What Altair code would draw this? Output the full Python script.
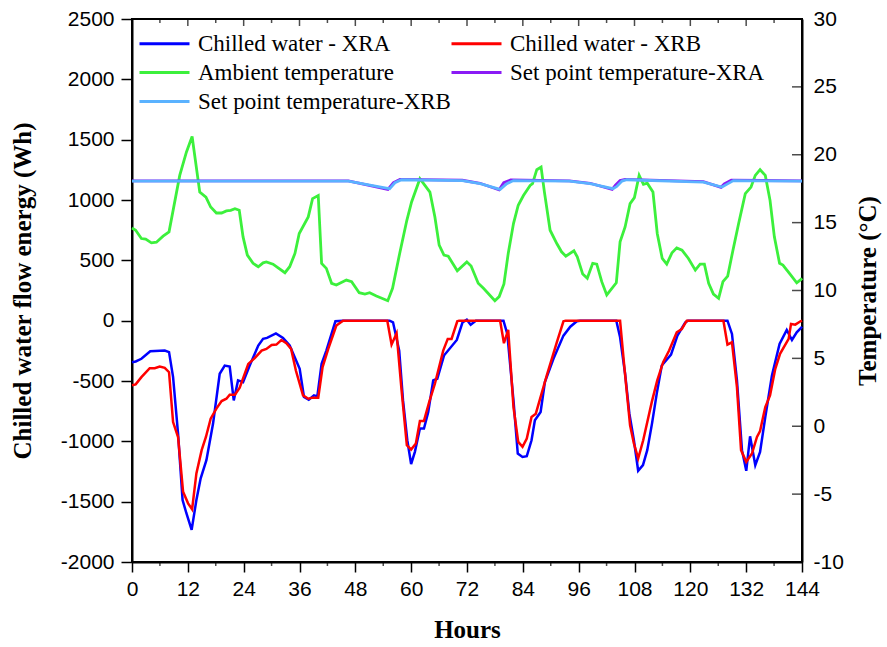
import altair as alt
import pandas as pd

# ---------------- data ----------------
names = ["Chilled water - XRA", "Chilled water - XRB", "Ambient temperature",
         "Set point temperature-XRA", "Set point temperature-XRB"]
colors = ["#0000FF", "#FF0000", "#3CF03C", "#8A1BF5", "#5AB2FF"]

x_ticks = [0, 12, 24, 36, 48, 60, 72, 84, 96, 108, 120, 132, 144]
x_minor = [6, 18, 30, 42, 54, 66, 78, 90, 102, 114, 126, 138]
e_ticks = [-2000, -1500, -1000, -500, 0, 500, 1000, 1500, 2000, 2500]
t_ticks = [-10, -5, 0, 5, 10, 15, 20, 25, 30]

hours_xra = [0, 0.79, 2.02, 3.92, 7.04, 7.96, 8.83, 9.90, 10.87, 11.69, 12.82, 13.84, 14.76,
             15.99, 17.42, 18.85, 19.93, 21.00, 21.87, 22.79, 23.87, 25.30, 27.14, 28.17, 29.03,
             30.93, 32.46, 33.89, 36.04, 36.96, 37.99, 39.11, 39.83, 40.75, 41.77, 43.72, 45.35,
             55.38, 56.10, 57.43, 58.25, 59.17, 59.99, 60.80, 61.88, 62.75, 63.67, 64.74, 65.61,
             67.05, 69.81, 71.04, 71.96, 72.78, 73.90,
             79.84, 80.66, 81.99, 82.91, 83.93, 84.85, 85.87, 86.59, 87.82, 88.74, 90.58, 92.73,
             94.2, 95.6, 96.3,
             104.09, 104.90, 105.98, 106.90, 107.87, 108.79, 109.82, 110.74, 111.76, 112.78,
             113.86, 115.85, 117.23, 118.92, 119.5,
             127.98, 128.95, 130.02, 131.10, 132.02, 132.84, 133.96, 134.99, 136.11, 137.54,
             139.18, 140.72, 141.84, 142.87, 143.79, 144]
energy_xra = [-345, -338, -316, -253, -248, -261, -468, -936, -1486, -1596, -1734, -1486, -1307,
              -1156, -853, -440, -372, -380, -661, -495, -509, -372, -206, -151, -143,
              -105, -143, -206, -399, -633, -655, -619, -628, -358, -248, -5, 0,
              0, -14, -248, -661, -991, -1189, -1087, -894, -894, -757, -495, -481,
              -289, -160, -14, 8, -33, 0,
              0, -110, -661, -1101, -1129, -1123, -991, -826, -757, -509, -316, -124,
              -50, -5, 0,
              0, -138, -440, -771, -991, -1244, -1197, -1073, -853, -605,
              -372, -281, -124, -14, 0,
              0, -110, -495, -1073, -1244, -958, -1197, -1087, -798, -454,
              -193, -77, -160, -96, -60, -50]

hours_xrb = [0, 0.79, 2.02, 3.81, 4.89, 5.96, 7.04, 7.96, 8.83, 9.90, 10.98, 12.05, 12.92,
             13.84, 14.97, 15.89, 16.91, 18.14, 19.26, 20.29, 21.00, 22.13, 23.15, 24.99, 26.43,
             27.86, 28.88, 30.01, 31.03, 32.10, 33.18, 34.20, 35.22, 36.76, 37.88, 38.81, 40.03,
             40.96, 42.18, 43.92, 45.35,
             54.87, 55.79, 56.87, 57.94, 59.07, 59.99, 61.01, 61.88, 62.75, 63.87, 65.10, 66.89,
             67.86, 68.68, 69.91, 70.3,
             79.12, 79.94, 80.86, 81.99, 83.01, 83.93, 84.85, 85.87, 86.79, 89.15, 91.30, 92.73,
             93.2,
             104.90, 105.82, 107.05, 107.87, 108.79, 109.87, 111.71, 112.89, 114.16, 115.44,
             117.08, 118.16, 119.23,
             127.11, 127.98, 128.95, 130.02, 130.90, 132.02, 133.25, 134.32, 134.99, 136.11,
             137.13, 138.26, 139.28, 141.13, 141.64, 142.56, 143.68, 144]
energy_xrb = [-535, -528, -468, -394, -394, -380, -391, -427, -840, -964, -1418, -1514, -1563,
              -1266, -1073, -964, -812, -729, -666, -647, -614, -614, -556, -358, -308,
              -248, -234, -201, -198, -160, -187, -234, -413, -619, -647, -638, -638,
              -385, -234, -41, 0,
              0, -198, -105, -578, -1032, -1068, -1018, -831, -831, -675, -523, -248,
              -151, -151, -5, 0,
              0, -187, -77, -716, -1005, -1046, -977, -798, -771, -454, -179, -5,
              0,
              0, -385, -867, -1018, -1142, -991, -675, -495, -344, -248,
              -96, -69, 0,
              0, -198, -179, -551, -1073, -1170, -1101, -964, -914, -716,
              -619, -399, -275, -151, -27, -33, -5, 0]

hours_amb = [0, 0.79, 2.02, 2.94, 4.17, 5.25, 6.68, 7.96, 10.26, 11.69, 12.92, 14.56, 15.89,
             16.91, 18.14, 19.26, 20.29, 21.21, 22.13, 23.05, 23.87, 24.79, 26.02, 27.14, 28.17,
             28.88, 30.31, 32.87, 33.89, 35.02, 35.94, 37.88, 38.81, 40.03, 40.75, 41.77, 42.90,
             43.92, 46.07, 47.20, 48.83, 50.06, 51.08, 52.52, 54.97, 56.00, 57.53, 59.07, 60.09,
             61.88, 62.95, 64.03, 65.10, 66.02, 67.05, 67.97, 69.91, 71.96, 72.88, 74.41, 75.54,
             77.99, 78.92, 79.94, 80.86, 81.99, 83.01, 84.13, 85.57, 86.08, 87.00, 87.92, 88.64,
             89.86, 91.30, 92.32, 93.24, 94.98, 95.70, 96.87, 97.85, 99.02, 99.89, 100.96, 102.04,
             104.09, 104.90, 105.98, 107.05, 107.98, 109.00, 109.92, 110.74, 111.97, 112.89,
             113.96, 114.93, 116.06, 117.08, 118.21, 119.59, 121.07, 122.10, 123.02, 123.94,
             124.96, 126.08, 127.01, 128.03, 129.16, 130.38, 131.81, 133.04, 133.96, 134.99,
             136.11, 137.13, 138.06, 139.18, 139.90, 141.43, 142.87, 143.79, 144]
temp_amb = [14.6, 14.44, 13.83, 13.78, 13.51, 13.56, 14.0, 14.32, 18.48, 20.19, 21.34, 17.25, 16.88,
            16.15, 15.71, 15.71, 15.86, 15.91, 16.03, 15.91, 13.95, 12.61, 12.0, 11.75, 12.04,
            12.11, 11.94, 11.31, 11.75, 12.73, 14.2, 15.42, 16.77, 17.0, 12.0, 11.63, 10.53,
            10.4, 10.77, 10.65, 9.84, 9.74, 9.84, 9.6, 9.25, 10.16, 12.73, 15.17, 16.52,
            18.23, 17.74, 17.25, 15.42, 13.34, 12.61, 12.53, 11.45, 12.11, 11.8, 10.53, 10.16,
            9.25, 9.55, 10.48, 12.73, 14.93, 16.28, 17.0, 17.74, 17.87, 18.9, 19.09, 17.25,
            14.44, 13.46, 12.85, 12.53, 12.92, 12.48, 11.21, 10.9, 12.0, 11.94, 10.65, 9.67,
            10.57, 13.58, 14.68, 16.4, 16.84, 18.48, 17.82, 17.91, 17.25, 14.2,
            12.36, 11.94, 12.78, 13.14, 12.97, 12.36, 11.5, 11.94, 11.94, 10.53,
            9.74, 9.43, 10.65, 11.06, 12.97, 14.93, 17.13, 17.62, 18.48, 18.9,
            18.48, 16.64, 13.95, 12.0, 11.87, 11.21, 10.57, 10.82, 10.9]

hours_sp_xra = [0, 46.5, 55.0, 56.2, 57.6, 71, 74.8, 78.9, 79.9, 81.4, 94, 98.46, 103.2,
                103.9, 104.9, 106.0, 122.8, 126.6, 127.3, 128.8, 144]
temp_sp_xra = [18.08, 18.08, 17.45, 17.95, 18.18, 18.12, 17.9, 17.42, 17.95, 18.15, 18.08, 17.9,
               17.45, 17.75, 18.1, 18.18, 18.02, 17.6, 17.85, 18.12, 18.08]

hours_sp_xrb = [0, 46.5, 54.67, 55.38, 56.51, 57.94, 71, 74.82, 79.12, 80.55, 81.99, 94, 98.46,
                103.37, 104.19, 105.31, 106.34, 122.81, 126.80, 127.82, 129.26, 144]
temp_sp_xrb = [18.05, 18.05, 17.55, 17.5, 17.94, 18.16, 18.1, 17.87, 17.45, 17.87, 18.1, 18.05,
               17.87, 17.5, 17.67, 18.06, 18.16, 17.99, 17.62, 17.82, 18.1, 18.05]

# ---------------- tables ----------------
df_e = pd.concat([
    pd.DataFrame({"series": names[0], "hour": hours_xra, "value": energy_xra}),
    pd.DataFrame({"series": names[1], "hour": hours_xrb, "value": energy_xrb}),
])
df_t = pd.concat([
    pd.DataFrame({"series": names[2], "hour": hours_amb, "value": temp_amb}),
    pd.DataFrame({"series": names[3], "hour": hours_sp_xra, "value": temp_sp_xra}),
    pd.DataFrame({"series": names[4], "hour": hours_sp_xrb, "value": temp_sp_xrb}),
])
df_xt = pd.DataFrame({"hour": x_ticks})
df_xm = pd.DataFrame({"hour": x_minor})
df_tt = pd.DataFrame({"value": t_ticks})

W, H = 670, 543
plain = "datum.value + ''"

x_enc = alt.X("hour:Q", scale=alt.Scale(domain=[0, 144], nice=False, zero=False),
              axis=alt.Axis(values=x_ticks, title="Hours", tickSize=10, labelPadding=6,
                            titlePadding=18, labelFlush=False, labelExpr=plain))
y_e = alt.Y("value:Q", scale=alt.Scale(domain=[-2000, 2500], nice=False),
            axis=alt.Axis(values=e_ticks, title="Chilled water flow energy (Wh)", tickSize=11,
                          labelPadding=7, titlePadding=25, labelFlush=False, labelExpr=plain))
y_t = alt.Y("value:Q", scale=alt.Scale(domain=[-10, 30], nice=False, zero=False),
            axis=alt.Axis(values=t_ticks, orient="right", title="Temperature (°C)", ticks=False,
                          labelPadding=11, titlePadding=12, titleAngle=-90,
                          titleBaseline="top", labelFlush=False, labelExpr=plain))

color = alt.Color("series:N", sort=names,
                  scale=alt.Scale(domain=names, range=colors),
                  legend=alt.Legend(orient="none", legendX=21, legendY=13, columns=2,
                                    direction="horizontal",
                                    title=None, symbolType="M-2.5,0H2.5", symbolSize=400,
                                    symbolStrokeWidth=3, labelFont="Liberation Serif",
                                    labelFontSize=23, labelColor="black", labelOffset=22,
                                    rowPadding=5, columnPadding=-6, labelLimit=500,
                                    padding=0))

energy_lines = alt.Chart(df_e).mark_line(strokeWidth=2.5).encode(x=x_enc, y=y_e, color=color)

top_major = alt.Chart(df_xt).mark_tick(orient="vertical", size=7, thickness=1.5,
                                       color="black").encode(x=x_enc, y=alt.value(3.5))
top_minor = alt.Chart(df_xm).mark_tick(orient="vertical", size=4, thickness=1.5,
                                       color="black").encode(x=x_enc, y=alt.value(2))
bottom_minor = alt.Chart(df_xm).mark_tick(orient="vertical", size=4, thickness=1.5,
                                          color="black").encode(x=x_enc, y=alt.value(H + 2))

temp_lines = alt.Chart(df_t).mark_line(strokeWidth=2.8).encode(x=x_enc, y=y_t, color=color)
right_ticks = alt.Chart(df_tt).mark_tick(orient="horizontal", size=10, thickness=1.5,
                                         color="black").encode(y=y_t, x=alt.value(W - 5))

left_group = alt.layer(energy_lines, top_major, top_minor, bottom_minor)
right_group = alt.layer(temp_lines, right_ticks)

chart = alt.layer(left_group, right_group).resolve_scale(y="independent").properties(
    width=W, height=H,
    autosize=alt.AutoSizeParams(type="none"),
    padding={"left": 132, "top": 19, "right": 887 - 132 - W, "bottom": 647 - 19 - H},
    background="white",
).configure_axis(
    labelFont="Liberation Sans", labelFontSize=21, labelColor="black",
    titleFont="Liberation Serif", titleFontSize=25, titleFontWeight="bold", titleColor="black",
    domainColor="black", domainWidth=2, tickColor="black", tickWidth=1.5, grid=False,
).configure_view(stroke="black", strokeWidth=2)

chart.save("out.html", embed_options={"renderer": "svg", "actions": False})
